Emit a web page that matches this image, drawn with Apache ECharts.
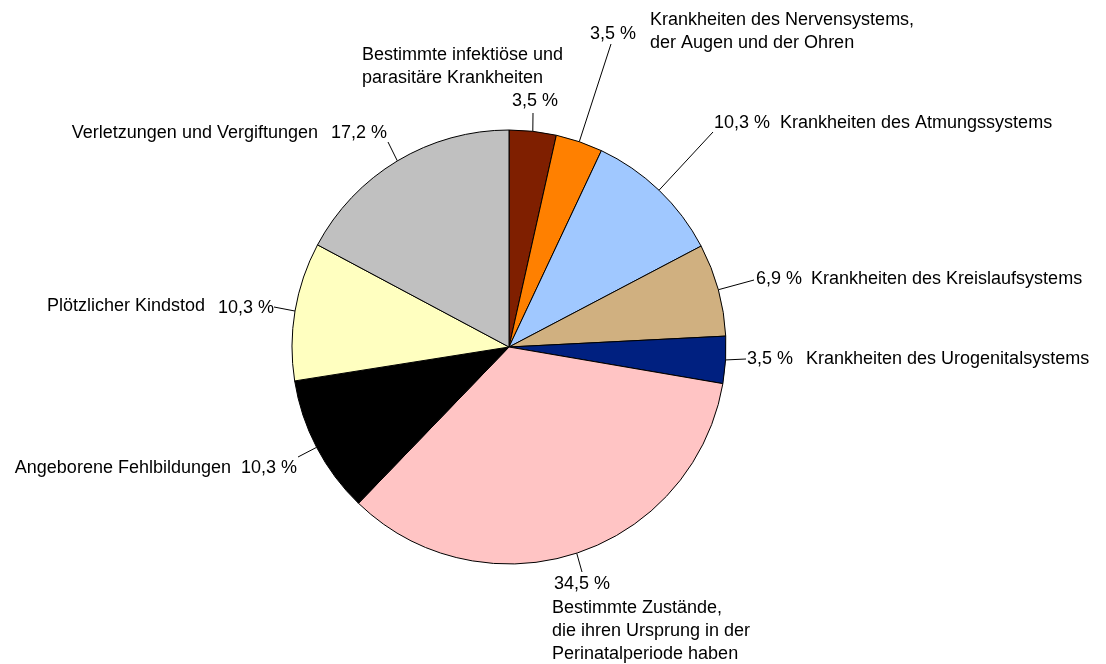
<!DOCTYPE html>
<html>
<head>
<meta charset="utf-8">
<title>Todesursachen</title>
<script src="https://cdn.jsdelivr.net/npm/echarts@6/dist/echarts.min.js"></script>
<style>
  html, body { margin: 0; padding: 0; background: #fff; }
  #chart { width: 1106px; height: 664px; }
</style>
</head>
<body>
<div id="chart"></div>
<script>
// Kategorien im Uhrzeigersinn ab 12 Uhr
var categories = [
  "Bestimmte infektiöse und\nparasitäre Krankheiten",
  "Krankheiten des Nervensystems,\nder Augen und der Ohren",
  "Krankheiten des Atmungssystems",
  "Krankheiten des Kreislaufsystems",
  "Krankheiten des Urogenitalsystems",
  "Bestimmte Zustände,\ndie ihren Ursprung in der\nPerinatalperiode haben",
  "Angeborene Fehlbildungen",
  "Plötzlicher Kindstod",
  "Verletzungen und Vergiftungen"
];
var shares = [3.5, 3.5, 10.3, 6.9, 3.5, 34.5, 10.3, 10.3, 17.2];
var colors = ["#7f1f00", "#ff8000", "#a0c8ff", "#d0b080", "#002080", "#ffc4c4", "#000000", "#ffffc0", "#c0c0c0"];

// Lage der Prozentangaben: [x, y, Ende der Führungslinie x, y]
var pctLayout = [
  [535, 101, 533, 113],
  [613, 34, 611, 44],
  [742, 123, 713, 132],
  [779, 279, 754, 280],
  [770, 359, 746, 359],
  [582, 584, 582, 572],
  [269, 468, 298, 457],
  [246, 308, 274, 307],
  [359, 133, 388, 142]
];
// Lage der Beschriftungen: [x, y, align, verticalAlign]
var nameLayout = [
  [362, 44, "left", "top"],
  [650, 9, "left", "top"],
  [780, 123, "left", "middle"],
  [811, 279, "left", "middle"],
  [806, 359, "left", "middle"],
  [552, 597, "left", "top"],
  [231, 468, "right", "middle"],
  [205, 306, "right", "middle"],
  [318, 133, "right", "middle"]
];

var textStyle = {
  color: "#000",
  fontFamily: "'Liberation Sans', Arial, sans-serif",
  fontSize: 18,
  lineHeight: 23
};

var pieData = shares.map(function (v, i) {
  return { name: categories[i], value: v, itemStyle: { color: colors[i] } };
});

var myChart = echarts.init(document.getElementById("chart"));
var option = {
  animation: false,
  series: [
    {
      type: "pie",
      center: [509, 347],
      radius: 217,
      startAngle: 90,
      clockwise: true,
      silent: true,
      data: pieData,
      itemStyle: { borderColor: "#000", borderWidth: 1 },
      label: Object.assign({
        show: true,
        position: "outside",
        formatter: function (p) {
          return p.value.toFixed(1).replace(".", ",") + " %";
        }
      }, textStyle),
      labelLine: { show: true, lineStyle: { color: "#000", width: 1 } },
      labelLayout: function (p) {
        var l = pctLayout[p.dataIndex];
        var start = p.labelLinePoints ? p.labelLinePoints[0] : [l[2], l[3]];
        return {
          x: l[0],
          y: l[1],
          align: "center",
          verticalAlign: "middle",
          labelLinePoints: [start, [l[2], l[3]], [l[2], l[3]]]
        };
      }
    },
    {
      // zweite, unsichtbare Serie nur für die Kategorienamen
      type: "pie",
      center: [509, 347],
      radius: 217,
      startAngle: 90,
      clockwise: true,
      silent: true,
      z: 1,
      data: pieData.map(function (d) {
        return { name: d.name, value: d.value, itemStyle: { color: "rgba(0,0,0,0)" } };
      }),
      itemStyle: { borderWidth: 0 },
      label: Object.assign({ show: true, position: "outside", formatter: "{b}" }, textStyle),
      labelLine: { show: false },
      labelLayout: function (p) {
        var l = nameLayout[p.dataIndex];
        return { x: l[0], y: l[1], align: l[2], verticalAlign: l[3] };
      }
    }
  ]
};
myChart.setOption(option);
</script>
</body>
</html>
